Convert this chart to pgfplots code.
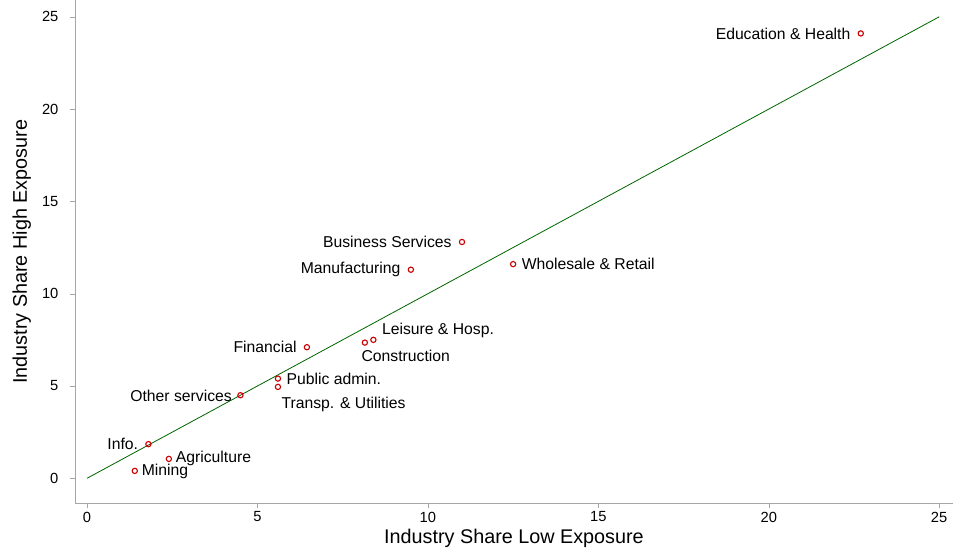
\documentclass[border={9bp 0bp 0bp 0bp}]{standalone}
\usepackage{pgfplots}
\pgfplotsset{compat=1.18}
\usepackage{fontspec}
\setmainfont{Liberation Sans}
\begin{document}
\begin{tikzpicture}
\begin{axis}[scale only axis, width=862bp, height=494bp,
 xmin=-0.35, xmax=25.4, ymin=-1.35, ymax=25.9,
 axis lines*=left, axis line style={gray!70},
 xtick={0,5,...,25}, ytick={0,5,...,25},
 tick style={gray!70}, tick align=outside, major tick length=5pt,
 ticklabel style={font=\fontsize{14.5}{14.5}\selectfont},
 yticklabel style={xshift=-8pt},
 /pgf/number format/assume math mode=true,
 xlabel={Industry Share Low Exposure}, ylabel={Industry Share High Exposure},
 label style={font=\fontsize{19.5}{19.5}\selectfont},
 ylabel style={yshift=4pt},
 clip=false]
\addplot[green!40!black, thick, no marks] coordinates {(0,0) (25,25)};
\addplot[only marks, mark=o, mark size=2.6pt, red!80!black, line width=1.1pt] coordinates {
(22.7,24.1) (11,12.8) (9.5,11.3) (12.5,11.6) (8.4,7.5) (8.15,7.35) (6.45,7.1)
(5.6,5.4) (5.6,4.95) (4.5,4.5) (1.8,1.85) (2.4,1.05) (1.4,0.4)};
\begin{scope}[every node/.style={font=\fontsize{15.5}{15.5}\selectfont}]
\node[anchor=east] at (axis cs:22.5,24.1) {Education \& Health};
\node[anchor=east] at (axis cs:10.8,12.8) {Business Services};
\node[anchor=east] at (axis cs:9.3,11.3) {Manufacturing};
\node[anchor=west] at (axis cs:12.65,11.6) {Wholesale \& Retail};
\node[anchor=west] at (axis cs:8.55,8.0) {Leisure \& Hosp.};
\node[anchor=north west] at (axis cs:7.95,7.15) {Construction};
\node[anchor=east] at (axis cs:6.25,7.1) {Financial};
\node[anchor=west] at (axis cs:5.75,5.4) {Public admin.};
\node[anchor=north west] at (axis cs:5.6,4.6) {Transp. \& Utilities};
\node[anchor=east] at (axis cs:4.35,4.45) {Other services};
\node[anchor=east] at (axis cs:1.6,1.85) {Info.};
\node[anchor=west] at (axis cs:2.5,1.05) {Agriculture};
\node[anchor=west] at (axis cs:1.5,0.35) {Mining};
\end{scope}
\end{axis}
\end{tikzpicture}
\end{document}
